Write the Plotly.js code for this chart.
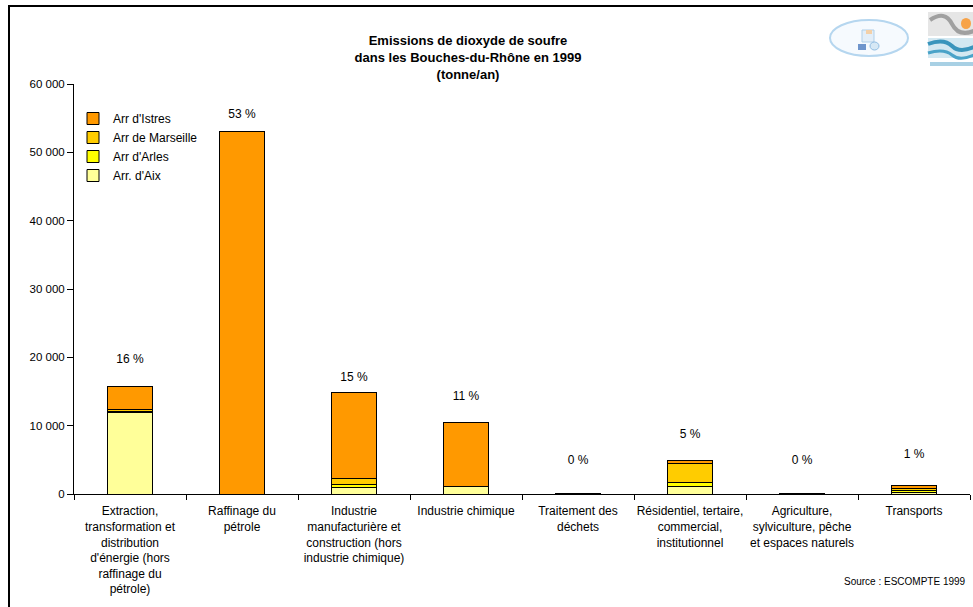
<!DOCTYPE html>
<html>
<head>
<meta charset="utf-8">
<script src="https://cdn.plot.ly/plotly-3.0.1.min.js"></script>
<style>
html,body{margin:0;padding:0;background:#fff;}
#chart{width:973px;height:607px;}
</style>
</head>
<body>
<div id="chart"></div>
<script>
// ---- Data (tonne/an) ----
var categories = [
  "Extraction,<br>transformation et<br>distribution<br>d'énergie (hors<br>raffinage du<br>pétrole)",
  "Raffinage du<br>pétrole",
  "Industrie<br>manufacturière et<br>construction (hors<br>industrie chimique)",
  "Industrie chimique",
  "Traitement des<br>déchets",
  "Résidentiel, tertaire,<br>commercial,<br>institutionnel",
  "Agriculture,<br>sylviculture, pêche<br>et espaces naturels",
  "Transports"
];
var arrAix       = [11950, 0,   980, 1170, 30,  1100, 60, 250];
var arrArles     = [150,   0,   440, 0,    20,  600,  30, 250];
var arrMarseille = [300,   0,   780, 0,    30,  2700, 30, 350];
var arrIstres    = [3300, 53100, 12630, 9320, 60, 450, 20, 420];
var pctLabels = ["16 %", "53 %", "15 %", "11 %", "0 %", "5 %", "0 %", "1 %"];
var pctY      = [19600, 55500, 17000, 14200, 4830, 8630, 4830, 5710];

var seriesNames  = ["Arr. d'Aix", "Arr d'Arles", "Arr de Marseille", "Arr d'Istres"];
var seriesColors = ["#FFFF99", "#FFFF00", "#FFCC00", "#FF9900"];
var seriesValues = [arrAix, arrArles, arrMarseille, arrIstres];

var FONT = "Arial, 'Liberation Sans', sans-serif";

var traces = seriesValues.map(function(vals, i){
  return {
    type: "bar",
    name: seriesNames[i],
    x: categories,
    y: vals,
    marker: {color: seriesColors[i], line: {color: "#000", width: 1}},
    hoverinfo: "name+y"
  };
});
traces.push({
  type: "scatter",
  mode: "text",
  x: categories,
  y: pctY,
  text: pctLabels,
  textfont: {family: FONT, size: 12, color: "#000"},
  showlegend: false,
  cliponaxis: false,
  hoverinfo: "skip"
});

// pixel -> paper helpers (plot area: x 74..970, y 84..494)
function px(x){ return (x - 74) / 896; }
function py(y){ return (494 - y) / 410; }

var shapes = [
  // outer frame (extends past right / bottom edges like the reference)
  {type: "rect", xref: "paper", yref: "paper", x0: px(9), x1: px(1010), y0: py(640), y1: py(6),
   line: {color: "#000", width: 2}, fillcolor: "rgba(0,0,0,0)"},
  // logo 1 (eye)
  {type: "circle", xref: "paper", yref: "paper", x0: px(830), x1: px(908), y0: py(56), y1: py(20),
   line: {color: "#B5D6EF", width: 2}, fillcolor: "rgba(240,247,253,0.6)"},
  {type: "rect", xref: "paper", yref: "paper", x0: px(862), x1: px(874), y0: py(42), y1: py(30),
   line: {color: "#B0CFE8", width: 1}, fillcolor: "#E3EEF8"},
  {type: "rect", xref: "paper", yref: "paper", x0: px(858), x1: px(866), y0: py(50), y1: py(44),
   line: {width: 0}, fillcolor: "#6F95CC"},
  {type: "circle", xref: "paper", yref: "paper", x0: px(870), x1: px(879), y0: py(50), y1: py(42),
   line: {color: "#8FBCE2", width: 1}, fillcolor: "#D6E8F5"},
  {type: "rect", xref: "paper", yref: "paper", x0: px(866), x1: px(872), y0: py(34), y1: py(30),
   line: {width: 0}, fillcolor: "#F3D0A8"},
  // logo 2
  {type: "rect", xref: "paper", yref: "paper", x0: px(928), x1: px(976), y0: py(36), y1: py(12),
   line: {width: 0}, fillcolor: "#E6E6E6"},
  {type: "path", xref: "paper", yref: "paper",
   path: "M " + px(930) + "," + py(20) + " Q " + px(945) + "," + py(10) + " " + px(952) + "," + py(24) +
         " T " + px(976) + "," + py(30),
   line: {color: "#A0A0A0", width: 4}},
  {type: "circle", xref: "paper", yref: "paper", x0: px(961), x1: px(971), y0: py(29), y1: py(18),
   line: {width: 0}, fillcolor: "#F7A349"},
  {type: "rect", xref: "paper", yref: "paper", x0: px(928), x1: px(976), y0: py(58), y1: py(38),
   line: {width: 0}, fillcolor: "#D3E8F1"},
  {type: "path", xref: "paper", yref: "paper",
   path: "M " + px(928) + "," + py(44) + " Q " + px(944) + "," + py(38) + " " + px(952) + "," + py(46) +
         " T " + px(976) + "," + py(46),
   line: {color: "#3A95BC", width: 4}},
  {type: "path", xref: "paper", yref: "paper",
   path: "M " + px(928) + "," + py(53) + " Q " + px(944) + "," + py(48) + " " + px(952) + "," + py(55) +
         " T " + px(976) + "," + py(54),
   line: {color: "#4AA3C8", width: 3}},
  {type: "rect", xref: "paper", yref: "paper", x0: px(930), x1: px(976), y0: py(66), y1: py(62),
   line: {width: 0}, fillcolor: "#A8D0E4"}
];

var layout = {
  width: 973,
  height: 607,
  paper_bgcolor: "#fff",
  plot_bgcolor: "#fff",
  separators: ", ",
  margin: {l: 74, r: 3, t: 84, b: 113},
  font: {family: FONT, size: 12, color: "#000"},
  title: {
    text: "<b>Emissions de dioxyde de soufre<br>dans les Bouches-du-Rhône en 1999<br>(tonne/an)</b>",
    font: {family: FONT, size: 13, color: "#000"},
    x: 468 / 973, xref: "container", xanchor: "center",
    y: 1 - 45 / 607, yref: "container", yanchor: "top"
  },
  barmode: "stack",
  bargap: 0.6,
  showlegend: true,
  legend: {
    x: px(73), y: py(104), xanchor: "left", yanchor: "top",
    traceorder: "reversed",
    bgcolor: "rgba(0,0,0,0)",
    font: {family: FONT, size: 12, color: "#000"},
    itemwidth: 30,
    tracegroupgap: 0
  },
  xaxis: {
    type: "category",
    showline: true, linecolor: "#000", linewidth: 1,
    ticks: "outside", tickson: "boundaries", ticklen: 5, tickcolor: "#000",
    showgrid: false, zeroline: false,
    tickfont: {family: FONT, size: 12, color: "#000"},
    ticklabelstandoff: 6,
    tickangle: 0,
    automargin: false
  },
  yaxis: {
    range: [0, 60000], dtick: 10000, tick0: 0,
    tickformat: ",d",
    showline: true, linecolor: "#000", linewidth: 1,
    ticks: "outside", ticklen: 6, tickcolor: "#000",
    showgrid: false, zeroline: false,
    tickfont: {family: FONT, size: 11.5, color: "#000"},
    automargin: false
  },
  shapes: shapes,
  annotations: [
    {text: "Source : ESCOMPTE 1999", xref: "paper", yref: "paper",
     x: px(968), y: py(581), xanchor: "right", yanchor: "middle", showarrow: false,
     font: {family: FONT, size: 10, color: "#000"}}
  ]
};

Plotly.newPlot("chart", traces, layout, {displayModeBar: false, staticPlot: true});
</script>
</body>
</html>
